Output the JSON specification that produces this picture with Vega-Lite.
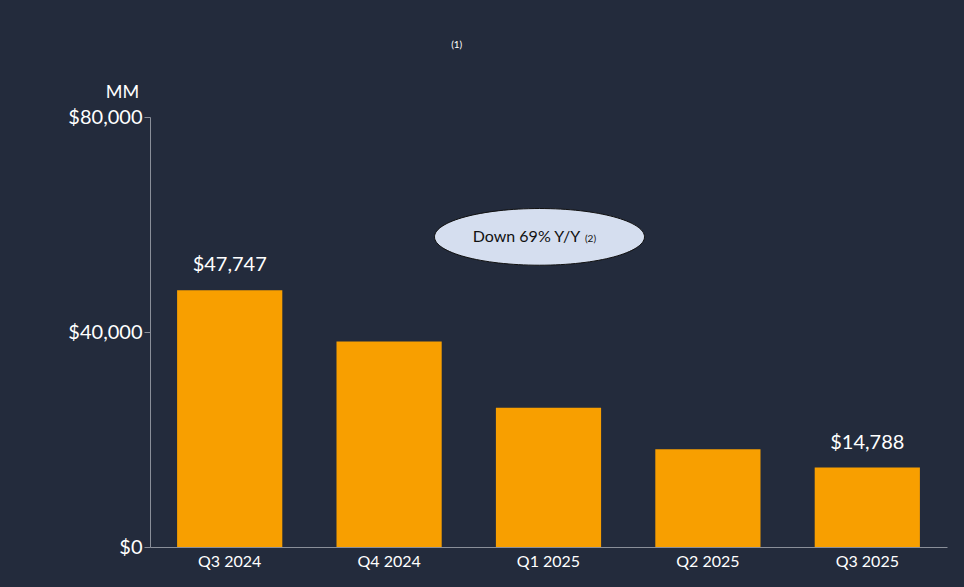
{
  "$schema": "https://vega.github.io/schema/vega-lite/v6.json",
  "width": 797, "height": 430,
  "autosize": "none",
  "padding": {"left": 150, "top": 117, "right": 17, "bottom": 40},
  "background": "#232b3c",
  "config": {"view": {"stroke": null}, "font": "Lato"},
  "title": {
    "text": "Free Cash Flow – TTM",
    "anchor": "start", "frame": "group",
    "fontSize": 37, "font": "Lato", "fontWeight": "bold", "color": "#f79b0e",
    "dx": -140, "offset": 69, "baseline": "alphabetic"
  },
  "data": {"values": [
    {"quarter": "Q3 2024", "fcf": 47747, "label": "$47,747"},
    {"quarter": "Q4 2024", "fcf": 38219, "label": ""},
    {"quarter": "Q1 2025", "fcf": 25921, "label": ""},
    {"quarter": "Q2 2025", "fcf": 18184, "label": ""},
    {"quarter": "Q3 2025", "fcf": 14788, "label": "$14,788"}
  ]},
  "encoding": {
    "x": {"field": "quarter", "type": "nominal", "sort": null,
      "scale": {"paddingInner": 0.34, "paddingOuter": 0.17},
      "axis": {"title": null, "labelAngle": 0, "labelColor": "white", "labelFontSize": 16,
        "domainColor": "#8a8f99", "ticks": false, "labelPadding": 6}},
    "y": {"field": "fcf", "type": "quantitative",
      "scale": {"domain": [0, 80000]},
      "axis": {"values": [0, 40000, 80000], "format": "$,.0f", "grid": false,
        "labelColor": "white", "labelFontSize": 20, "domainColor": "#8a8f99",
        "tickColor": "#8a8f99", "tickSize": 6,
        "title": "MM", "titleAngle": 0, "titleColor": "white", "titleFontSize": 18,
        "titleFontWeight": "normal", "titleX": -28, "titleY": -16}}
  },
  "layer": [
    {"mark": {"type": "bar", "color": "#f89f00"}},
    {"mark": {"type": "text", "color": "white", "fontSize": 20, "dy": -15, "baseline": "bottom"},
     "encoding": {"text": {"field": "label"}}},
    {"data": {"values": [{"q": "Q1 2025", "v": 57700, "t": "Down 69% Y/Y"}]},
     "mark": {"type": "point", "shape": "M -1 0 A 1 0.27 0 1 1 1 0 A 1 0.27 0 1 1 -1 0 Z",
       "size": 44100, "filled": true, "fill": "#d5deef", "stroke": "#111", "strokeWidth": 1, "opacity": 1, "xOffset": -9},
     "encoding": {"x": {"field": "q", "type": "nominal"}, "y": {"field": "v", "type": "quantitative"}}},
    {"data": {"values": [{"q": "Q1 2025", "v": 57700, "t": "Down 69% Y/Y"}]},
     "mark": {"type": "text", "fontSize": 16, "color": "#111", "xOffset": -22},
     "encoding": {"x": {"field": "q", "type": "nominal"}, "y": {"field": "v", "type": "quantitative"}, "text": {"field": "t"}}},
    {"data": {"values": [{"q": "Q1 2025", "v": 57700, "t": "(2)"}]},
     "mark": {"type": "text", "fontSize": 10, "color": "#111", "xOffset": 42, "dy": 2},
     "encoding": {"x": {"field": "q", "type": "nominal"}, "y": {"field": "v", "type": "quantitative"}, "text": {"field": "t"}}},
    {"data": {"values": [{"q": "Q3 2024", "v": 93400, "t": "(1)"}]},
     "mark": {"type": "text", "fontSize": 10, "color": "white", "xOffset": 227, "clip": false},
     "encoding": {"x": {"field": "q", "type": "nominal"}, "y": {"field": "v", "type": "quantitative"}, "text": {"field": "t"}}}
  ]
}
